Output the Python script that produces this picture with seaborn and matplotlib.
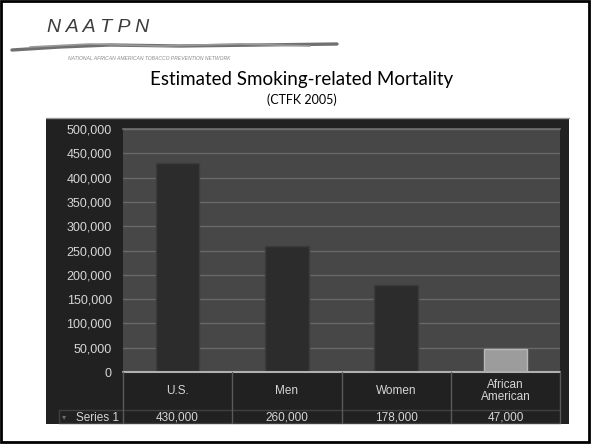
import matplotlib
matplotlib.use("Agg")
import matplotlib.pyplot as plt
from matplotlib.patches import Rectangle
from matplotlib.lines import Line2D
import seaborn as sns
import pandas as pd

categories = ["U.S.", "Men", "Women", "African\nAmerican"]
values = [430000, 260000, 178000, 47000]
value_labels = ["430,000", "260,000", "178,000", "47,000"]
series_name = "Series 1"
yticks = [0, 50000, 100000, 150000, 200000, 250000, 300000, 350000, 400000, 450000, 500000]
ytick_labels = ["0", "50,000", "100,000", "150,000", "200,000", "250,000",
                "300,000", "350,000", "400,000", "450,000", "500,000"]
bar_colors = ["#2c2c2c", "#2c2c2c", "#2c2c2c", "#9c9c9c"]
title = "Estimated Smoking-related Mortality"
subtitle = "(CTFK 2005)"

sns.set_theme(style="dark")
plt.rcParams["font.family"] = ["Liberation Sans", "DejaVu Sans"]

W, H = 591, 444
fig = plt.figure(figsize=(W / 100, H / 100), dpi=100)
fig.patch.set_facecolor("white")


def fx(px):
    return px / W


def fy(py):
    return 1 - py / H


# dark chart panel
fig.patches.append(Rectangle((fx(46), fy(424)), fx(569) - fx(46), fy(118) - fy(424),
                             transform=fig.transFigure, facecolor="#212121",
                             edgecolor="none", zorder=-5))
fig.lines.append(Line2D([fx(46), fx(569)], [fy(118), fy(118)], transform=fig.transFigure,
                        color="#9a9a9a", lw=1, zorder=-4))

# plot area
left, right, top, bottom = 123, 560, 129, 372
ax = fig.add_axes([fx(left), fy(bottom), fx(right) - fx(left), fy(top) - fy(bottom)])
ax.set_zorder(2)
ax.set_facecolor("#474747")

df = pd.DataFrame({"category": categories, "value": values})
sns.barplot(data=df, x="category", y="value", hue="category", palette=bar_colors,
            width=0.4, legend=False, ax=ax, edgecolor="#3c3c3c", linewidth=1, zorder=3)
for p, c in zip(ax.patches, bar_colors):
    if c == "#9c9c9c":
        p.set_edgecolor("#b8b8b8")

ax.set_xlim(-0.5, len(categories) - 0.5)
ax.set_ylim(0, 500000)
ax.set_yticks(yticks)
ax.set_yticklabels(ytick_labels)
ax.yaxis.grid(True, color="#686868", lw=1, zorder=1)
ax.set_axisbelow(True)
ax.tick_params(axis="y", colors="#d6d6d6", labelsize=9, length=0, pad=8)
ax.set_xticks([])
ax.set_xlabel("")
ax.set_ylabel("")
for s in ["left", "right", "bottom"]:
    ax.spines[s].set_visible(False)
ax.spines["top"].set_color("#707070")
ax.spines["top"].set_linewidth(1.2)
for lbl in ax.get_yticklabels():
    lbl.set_color("#d6d6d6")

# data table below the plot
row1_top, row1_bot, row2_bot = 372, 410, 424
ncol = len(categories)
col_w = (right - left) / ncol
fig.lines.append(Line2D([fx(left), fx(right)], [fy(row1_top), fy(row1_top)],
                        transform=fig.transFigure, color="#b0b0b0", lw=1.5, zorder=5))
fig.lines.append(Line2D([fx(59), fx(right)], [fy(row1_bot), fy(row1_bot)],
                        transform=fig.transFigure, color="#404040", lw=1, zorder=5))
fig.lines.append(Line2D([fx(59), fx(right)], [fy(row2_bot - 1), fy(row2_bot - 1)],
                        transform=fig.transFigure, color="#404040", lw=1, zorder=5))
fig.lines.append(Line2D([fx(59), fx(59)], [fy(row1_bot), fy(row2_bot - 1)],
                        transform=fig.transFigure, color="#404040", lw=1, zorder=5))
for i in range(ncol + 1):
    x = left + i * col_w
    fig.lines.append(Line2D([fx(x), fx(x)], [fy(row1_top), fy(row2_bot - 1)],
                            transform=fig.transFigure, color="#5a5a5a", lw=1, zorder=5))
for i, (cat, vl) in enumerate(zip(categories, value_labels)):
    cx = left + (i + 0.5) * col_w
    fig.text(fx(cx), fy(391), cat, ha="center", va="center", color="#d6d6d6",
             fontsize=8.5, linespacing=1.0)
    fig.text(fx(cx), fy(417.5), vl, ha="center", va="center", color="#d6d6d6", fontsize=8.5)
fig.text(fx(119), fy(417.5), series_name, ha="right", va="center", color="#d6d6d6", fontsize=8.5)
fig.text(fx(64), fy(417), "\u25be", ha="center", va="center", color="#6a6a6a", fontsize=6,
         family=["DejaVu Sans"])

# titles
fig.text(fx(302), fy(79), title, ha="center", va="center", color="black",
         fontsize=13.5, family=["Lato", "DejaVu Sans"])
fig.text(fx(302), fy(100), subtitle, ha="center", va="center", color="black",
         fontsize=9, family=["Lato", "DejaVu Sans"])

# logo decoration
fig.text(fx(47), fy(27), "N A A T P N", ha="left", va="center", color="#3c3c3c",
         fontsize=14, style="italic", family=["Liberation Sans Narrow", "Liberation Sans"])
fig.lines.append(Line2D([fx(12), fx(60), fx(110), fx(180), fx(260), fx(337)],
                        [fy(50), fy(47), fy(45), fy(46), fy(45), fy(44)],
                        transform=fig.transFigure, color="#707070", lw=2.4,
                        solid_capstyle="round"))
fig.lines.append(Line2D([fx(30), fx(90), fx(160), fx(240), fx(310)],
                        [fy(47), fy(44), fy(46), fy(44), fy(46)],
                        transform=fig.transFigure, color="#999999", lw=1.2))
fig.text(fx(68), fy(59), "NATIONAL AFRICAN AMERICAN TOBACCO PREVENTION NETWORK",
         ha="left", va="center", color="#8a8a8a", fontsize=3.6, style="italic")

# outer border
fig.patches.append(Rectangle((fx(1), fy(442)), fx(589) - fx(1), fy(1) - fy(442),
                             transform=fig.transFigure, facecolor="none",
                             edgecolor="black", lw=2, zorder=10))

fig.savefig("out.png", dpi=100)
